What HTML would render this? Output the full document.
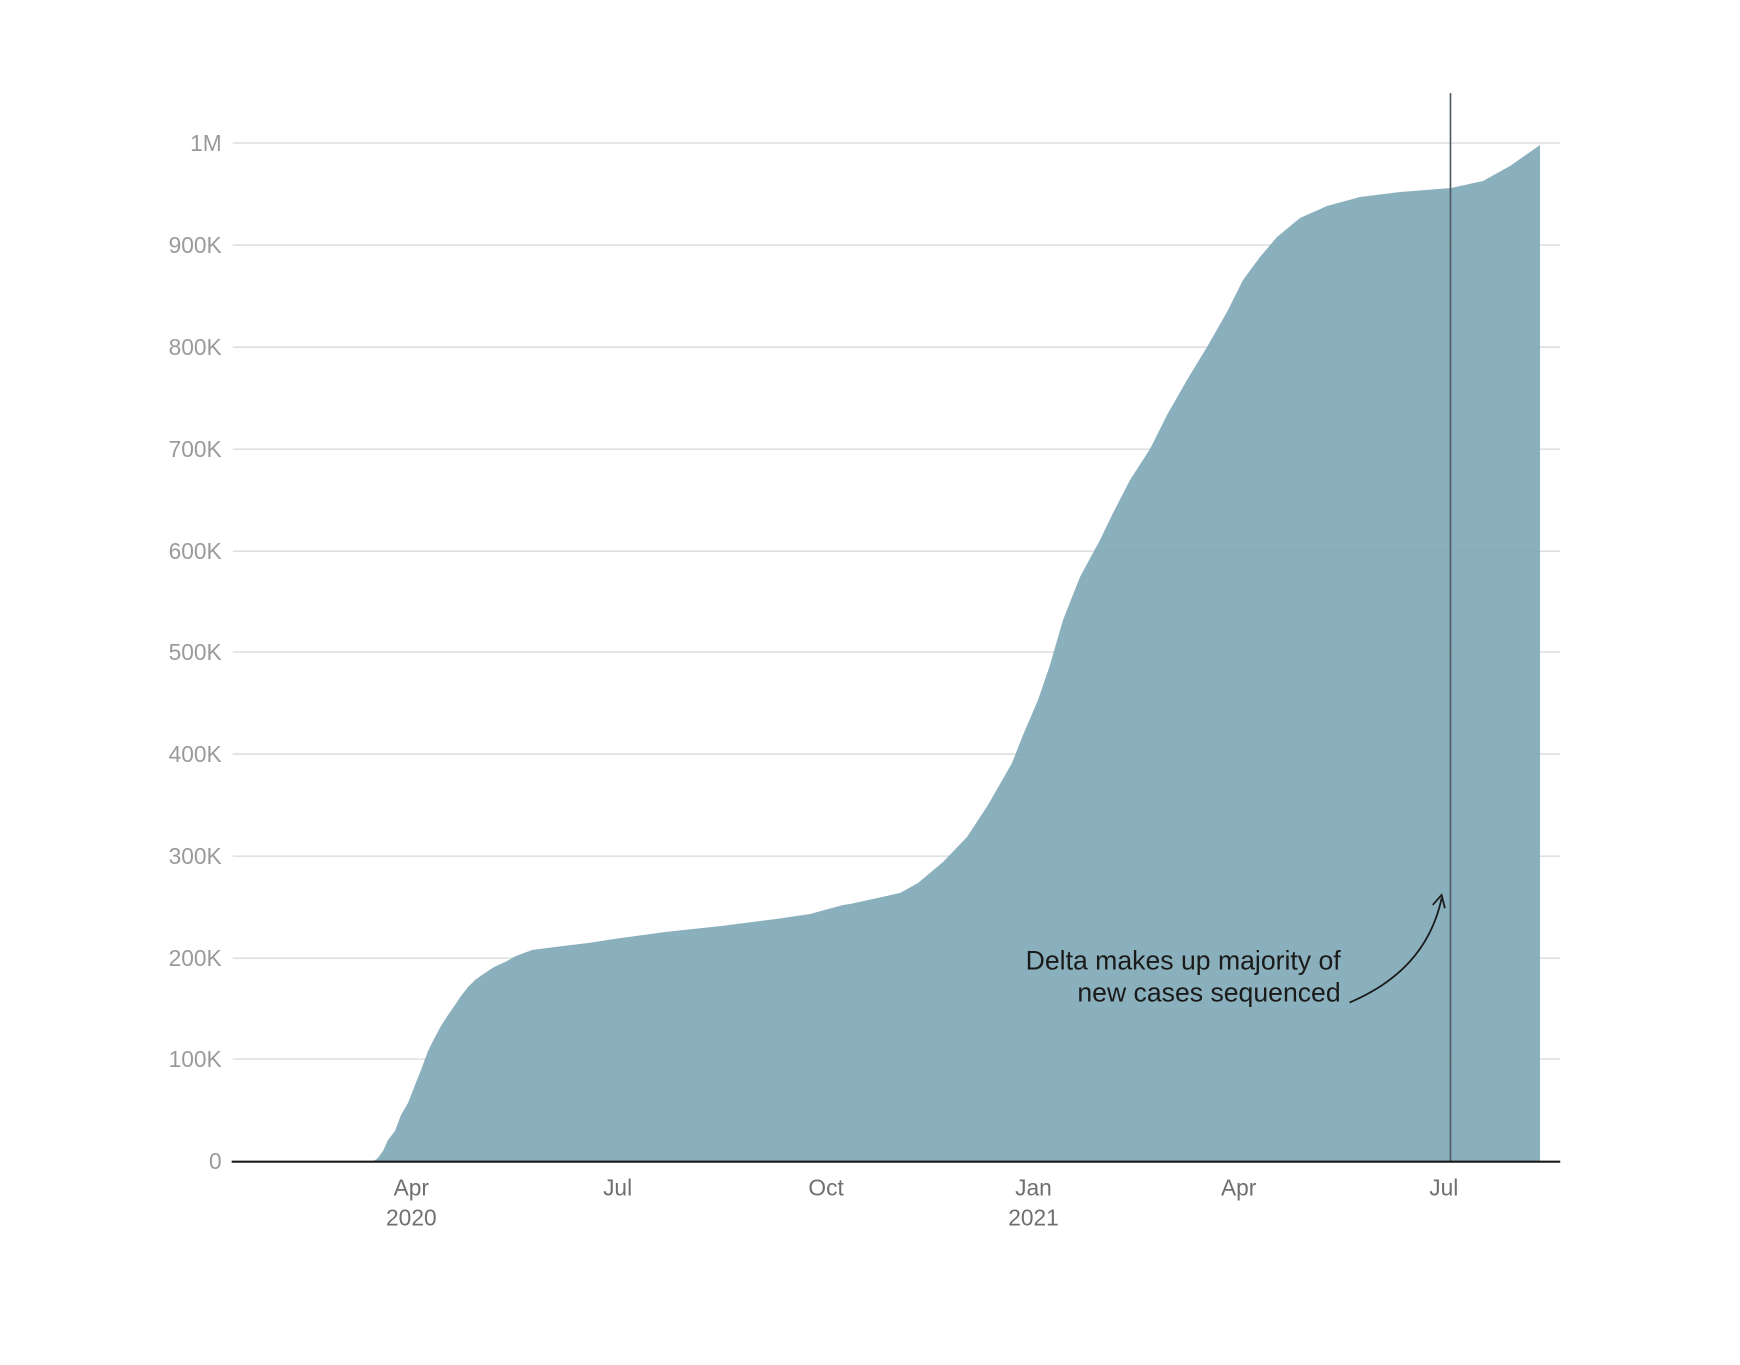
<!DOCTYPE html>
<html><head><meta charset="utf-8"><style>
html,body{margin:0;padding:0;background:#fff;}
svg{display:block;}
text{font-family:"Liberation Sans",sans-serif;}
</style></head><body>
<svg width="1740" height="1365" viewBox="0 0 1740 1365" xmlns="http://www.w3.org/2000/svg">
<g transform="translate(1,0) scale(1.109)">
<g stroke="#e0e0e0" stroke-width="1.5">
<line x1="209" x2="1406" y1="129" y2="129"/>
<line x1="209" x2="1406" y1="221" y2="221"/>
<line x1="209" x2="1406" y1="313" y2="313"/>
<line x1="209" x2="1406" y1="405" y2="405"/>
<line x1="209" x2="1406" y1="497" y2="497"/>
<line x1="209" x2="1406" y1="588" y2="588"/>
<line x1="209" x2="1406" y1="680" y2="680"/>
<line x1="209" x2="1406" y1="772" y2="772"/>
<line x1="209" x2="1406" y1="864" y2="864"/>
<line x1="209" x2="1406" y1="955" y2="955"/>
</g>
<g fill="#9a9a9a" font-size="20.5" text-anchor="end">
<text x="199" y="136">1M</text>
<text x="199" y="228">900K</text>
<text x="199" y="320">800K</text>
<text x="199" y="412">700K</text>
<text x="199" y="504">600K</text>
<text x="199" y="595">500K</text>
<text x="199" y="687">400K</text>
<text x="199" y="779">300K</text>
<text x="199" y="871">200K</text>
<text x="199" y="962">100K</text>
<text x="199" y="1054">0</text>
</g>
</g>
<path fill="#7ea7b6" fill-opacity="0.9" d="M373,1161 L377,1159 383,1151 388,1140 395,1131 401,1115 408,1103 415,1085 421,1070 428,1051 435,1037 441,1026 448,1015 455,1005 461,996 468,987 475,980 482,975 494,967 505,962 516,956 532,950 555,947 588,943 621,938 665,932 721,926 776,919 810,914 843,905 850,904 900,893 918,883 943,862 967,837 988,805 1012,763 1023,735 1038,700 1050,665 1063,620 1080,577 1100,540 1113,513 1130,480 1150,449 1167,415 1187,380 1207,347 1227,312 1243,280 1260,257 1277,237 1300,218 1327,206 1360,197 1400,192 1451,188 1483,181 1510,166 1540,145 L1540,1161 Z"/>
<g transform="translate(1,0) scale(1.109)">
<line x1="1307" x2="1307" y1="84" y2="1047" stroke="#4d5a60" stroke-width="1.5"/>
<line x1="208" x2="1406" y1="1047.5" y2="1047.5" stroke="#1a1a1a" stroke-width="2"/>
<g fill="#6f6f6f" font-size="20.5" text-anchor="middle">
<text x="370" y="1078">Apr</text>
<text x="370" y="1105">2020</text>
<text x="556" y="1078">Jul</text>
<text x="744" y="1078">Oct</text>
<text x="931" y="1078">Jan</text>
<text x="931" y="1105">2021</text>
<text x="1116" y="1078">Apr</text>
<text x="1301" y="1078">Jul</text>
</g>
<g fill="#1a1a1a" font-size="24" text-anchor="end">
<text x="1208" y="874">Delta makes up majority of</text>
<text x="1208" y="903">new cases sequenced</text>
</g>
<path d="M1216,904 Q1285,875 1299,810" fill="none" stroke="#1a1a1a" stroke-width="1.6"/>
<path d="M1291,816 L1299,807 L1302,819" fill="none" stroke="#1a1a1a" stroke-width="1.6"/>
</g>
</svg>
</body></html>
